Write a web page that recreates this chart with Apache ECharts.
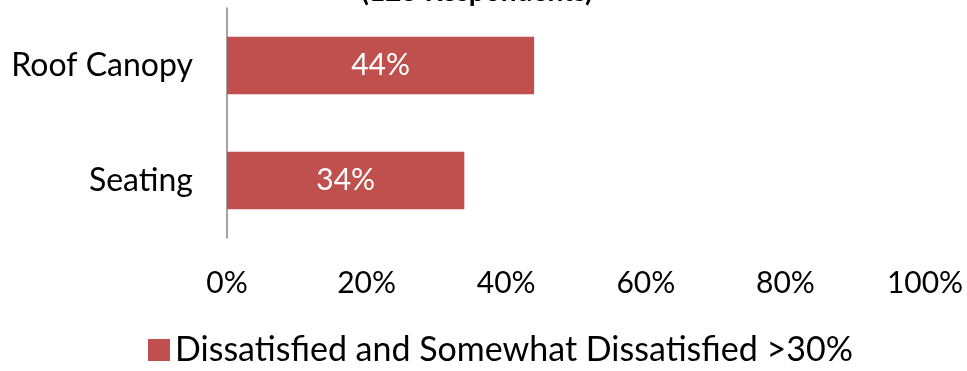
<!DOCTYPE html>
<html>
<head>
<meta charset="utf-8">
<script src="https://cdn.jsdelivr.net/npm/echarts@6/dist/echarts.min.js"></script>
<style>
  html, body { margin: 0; padding: 0; background: #fff; }
  #chart { width: 967px; height: 371px; }
</style>
</head>
<body>
<div id="chart"></div>
<script>
const categories = ['Seating', 'Roof Canopy']
const values = [34, 44]
const seriesName = 'Dissatisfied and Somewhat Dissatisfied >30%'
const titleText = '(125 Respondents)'

const chart = echarts.init(document.getElementById('chart'))

const font = 'Lato'

chart.setOption({
  backgroundColor: '#fff',
  animation: false,
  title: {
    text: titleText,
    left: 472,
    top: -27,
    textAlign: 'center',
    textStyle: { fontFamily: font, fontSize: 28, fontWeight: 'bold', color: '#000' }
  },
  legend: {
    bottom: -1,
    left: 143,
    itemWidth: 22,
    itemHeight: 22,
    itemGap: 6,
    icon: 'rect',
    textStyle: { fontFamily: font, fontSize: 34, color: '#000' },
    data: [seriesName]
  },
  grid: {
    left: 227,
    right: 42,
    top: 8,
    height: 230
  },
  xAxis: {
    type: 'value',
    min: 0,
    max: 100,
    interval: 20,
    axisLine: { show: false },
    axisTick: { show: false },
    splitLine: { show: false },
    axisLabel: {
      formatter: '{value}%',
      margin: 30,
      fontFamily: font,
      fontSize: 30,
      color: '#000'
    }
  },
  yAxis: {
    type: 'category',
    data: categories,
    axisLine: { show: true, lineStyle: { color: '#868686', width: 1.5 } },
    axisTick: { show: false },
    axisLabel: {
      margin: 34,
      fontFamily: font,
      fontSize: 32,
      color: '#000'
    }
  },
  series: [
    {
      name: seriesName,
      type: 'bar',
      data: values,
      barWidth: '50%',
      itemStyle: { color: '#c0504d' },
      label: {
        show: true,
        position: 'inside',
        formatter: '{c}%',
        fontFamily: font,
        fontSize: 30,
        color: '#fff'
      }
    }
  ]
})
</script>
</body>
</html>
